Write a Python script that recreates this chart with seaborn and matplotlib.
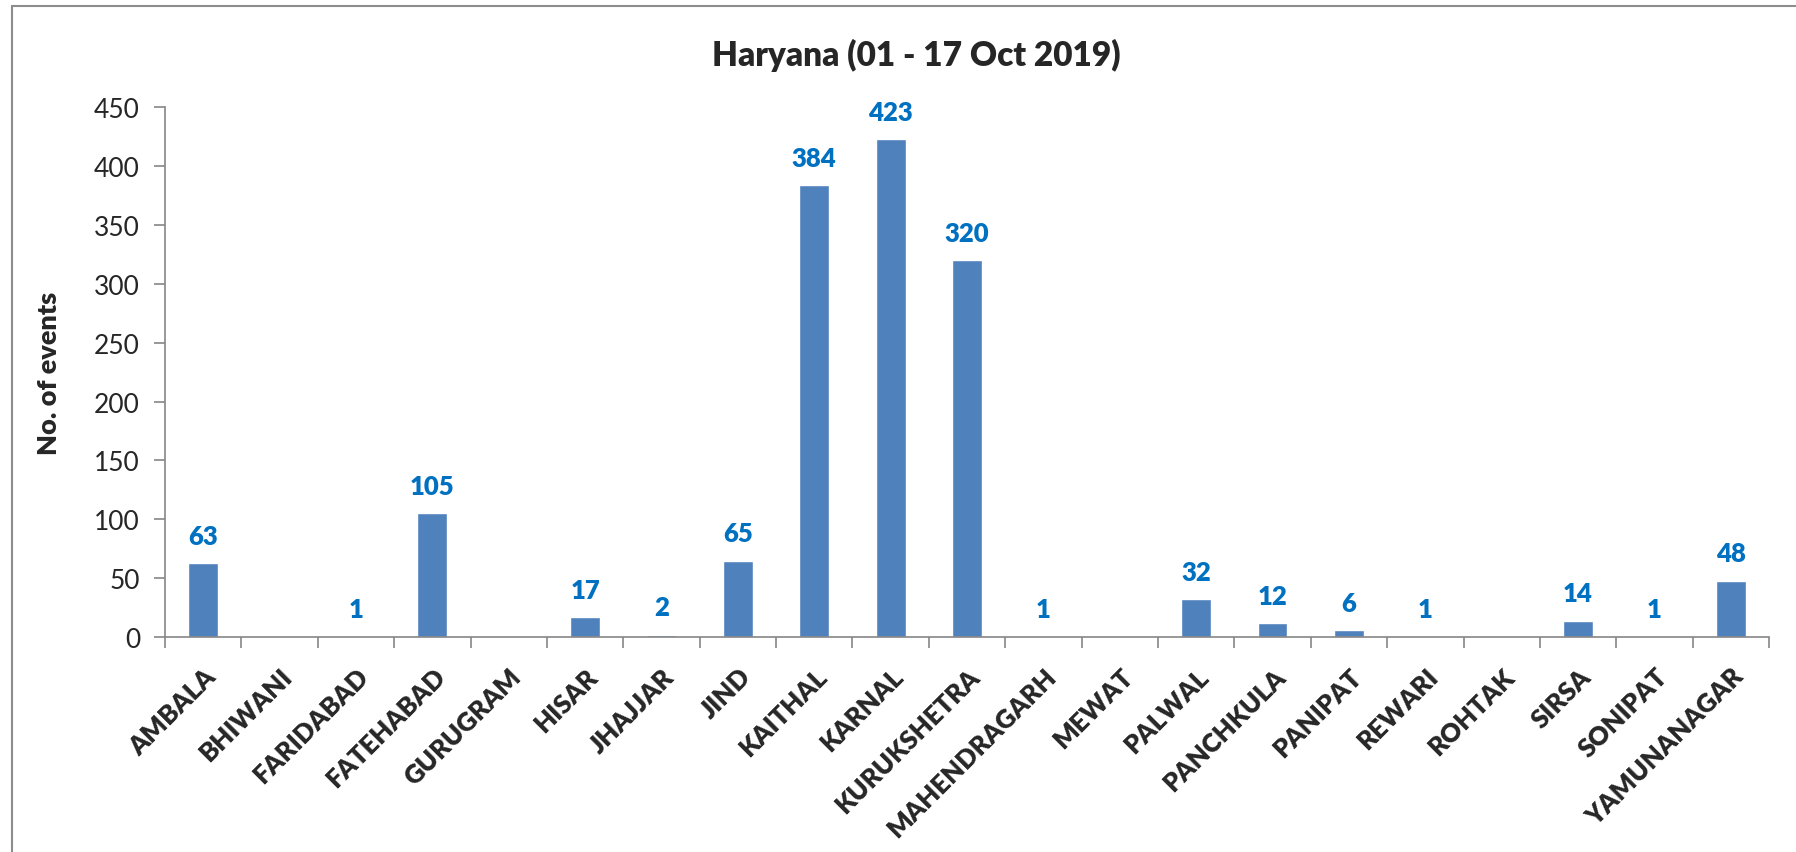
import matplotlib
matplotlib.use("Agg")
import matplotlib.pyplot as plt
import seaborn as sns
import pandas as pd
from matplotlib.patches import Rectangle

# district-wise event counts
districts = ['AMBALA', 'BHIWANI', 'FARIDABAD', 'FATEHABAD', 'GURUGRAM', 'HISAR',
             'JHAJJAR', 'JIND', 'KAITHAL', 'KARNAL', 'KURUKSHETRA', 'MAHENDRAGARH',
             'MEWAT', 'PALWAL', 'PANCHKULA', 'PANIPAT', 'REWARI', 'ROHTAK',
             'SIRSA', 'SONIPAT', 'YAMUNANAGAR']
events = [63, 0, 1, 105, 0, 17, 2, 65, 384, 423, 320, 1, 0, 32, 12, 6, 1, 0, 14, 1, 48]
y_ticks = [0, 50, 100, 150, 200, 250, 300, 350, 400, 450]

df = pd.DataFrame({'District': districts, 'Events': events})

sns.set_style('white')
plt.rcParams['font.family'] = ['Lato', 'DejaVu Sans']

fig = plt.figure(figsize=(17.96, 8.53), dpi=100)
ax = fig.add_axes([0.0919, 0.252, 0.8931, 0.621])

sns.barplot(data=df, x='District', y='Events', color='#4F81BD', width=0.39,
            saturation=1, ax=ax)

# value labels (skip zeros)
for i, v in enumerate(events):
    if v > 0:
        ax.text(i, v + 13, str(v), ha='center', va='bottom', fontsize=18.5,
                fontweight='heavy', color='#0070C0')

ax.set_xlim(-0.5, len(districts) - 0.5)
ax.set_ylim(0, 450)
ax.set_yticks(y_ticks)
ax.tick_params(axis='y', left=True, labelsize=19, length=8, width=1.2,
               color='#868686', pad=10)
ax.set_xticks(range(len(districts)))
ax.set_xticklabels(districts, rotation=45, ha='right', rotation_mode='anchor',
                   fontsize=18.5, fontweight='heavy')
ax.tick_params(axis='x', which='major', bottom=True, length=0, pad=19)
ax.set_xticks([i - 0.5 for i in range(len(districts) + 1)], minor=True)
ax.tick_params(axis='x', which='minor', bottom=True, length=8, width=1.2,
               color='#868686')

for s in ['top', 'right']:
    ax.spines[s].set_visible(False)
for s in ['left', 'bottom']:
    ax.spines[s].set_color('#868686')
    ax.spines[s].set_linewidth(1.2)

ax.set_xlabel('')
ax.set_ylabel('No. of events', fontsize=19.5, fontweight='heavy', labelpad=24)

fig.text(0.51, 0.935, 'Haryana (01 - 17 Oct 2019)', ha='center', va='center',
         fontsize=24, fontweight='heavy')

# chart border
fig.patches.append(Rectangle((12 / 1796, -0.01), 1.0, 1 - 7 / 853 + 0.01,
                             transform=fig.transFigure, fill=False,
                             edgecolor='#8c8c8c', linewidth=1.5))

fig.savefig('out.png', dpi=100)
